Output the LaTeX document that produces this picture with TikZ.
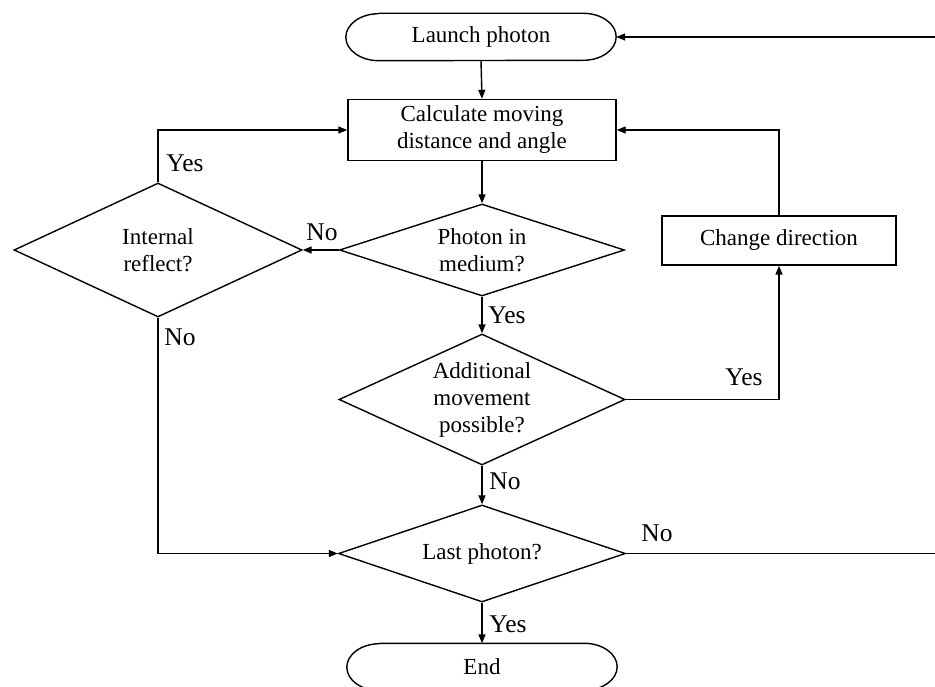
\documentclass[tikz,border=0pt]{standalone}
\usepackage{fontspec}
\setmainfont{Liberation Serif}
\usetikzlibrary{shapes.geometric,arrows.meta,calc}
\begin{document}
\begin{tikzpicture}[x=1pt,y=-1pt,
  every node/.style={font=\fontsize{23}{27}\selectfont, inner sep=0pt, align=center},
  box/.style={draw, line width=1.4pt, rectangle},
  dec/.style={draw, line width=1.4pt, diamond},
  term/.style={rectangle, minimum width=270pt, minimum height=47pt},
  lbl/.style={font=\fontsize{25.5}{28}\selectfont},
  conn/.style={line width=1.4pt, -{Triangle[length=9pt,width=7pt]}}]
\useasboundingbox (0,0) rectangle (935,687);
% terminals (drawn as stadiums with elliptical ends)
\node[term] (launch) at (481,37) {Launch photon};
\node[term] (end) at (482,667) {End};
\foreach \n in {launch,end}{
  \draw[line width=1.4pt, line join=round] ($(\n.north west)+(33,0)$) -- ($(\n.north east)+(-33,0)$)
    arc[start angle=90, end angle=-90, x radius=33pt, y radius=23.5pt]
    -- ($(\n.south west)+(33,0)$)
    arc[start angle=270, end angle=90, x radius=33pt, y radius=23.5pt] -- cycle;
}
\node[box, minimum width=268pt, minimum height=61pt] (calc) at (482,130) {Calculate moving\\distance and angle};
\node[box, minimum width=234pt, minimum height=49pt] (change) at (779,240.5) {Change direction};
\node[dec, minimum width=285pt, minimum height=92pt, aspect=3.1] (medium) at (482,250) {Photon in\\medium?};
\node[dec, minimum width=288pt, minimum height=134pt, aspect=2.15] (reflect) at (158,250) {Internal\\reflect?};
\node[dec, minimum width=286pt, minimum height=131pt, aspect=2.18] (addl) at (482,399.5) {Additional\\movement\\possible?};
\node[dec, minimum width=287pt, minimum height=97pt, aspect=2.96] (last) at (482,553.5) {Last photon?};
\coordinate (rc) at (945,553.5);
% connectors
\draw[conn] (launch.south) -- (calc.north);
\draw[conn] (calc.south) -- (medium.north);
\draw[conn] (medium.west) -- (reflect.east);
\draw[conn] (medium.south) -- (addl.north);
\draw[conn] (addl.south) -- (last.north);
\draw[conn] (last.south) -- (end.north);
\draw[conn] (reflect.north) |- (calc.west);
\draw[conn] (reflect.south) |- (last.west);
\draw[conn] (addl.east) -| (change.south);
\draw[conn] (change.north) |- (calc.east);
\draw[conn] (last.east) -- (rc) |- (launch.east);
% labels
\node[lbl] (l1) at (322,232) {No};
\node[lbl] (l2) at (507,315) {Yes};
\node[lbl] (l3) at (505,481) {No};
\node[lbl] (l4) at (508,624) {Yes};
\node[lbl] (l5) at (185,163) {Yes};
\node[lbl] (l6) at (180,337) {No};
\node[lbl] (l7) at (744,377) {Yes};
\node[lbl] (l8) at (657,533) {No};
\end{tikzpicture}
\end{document}
